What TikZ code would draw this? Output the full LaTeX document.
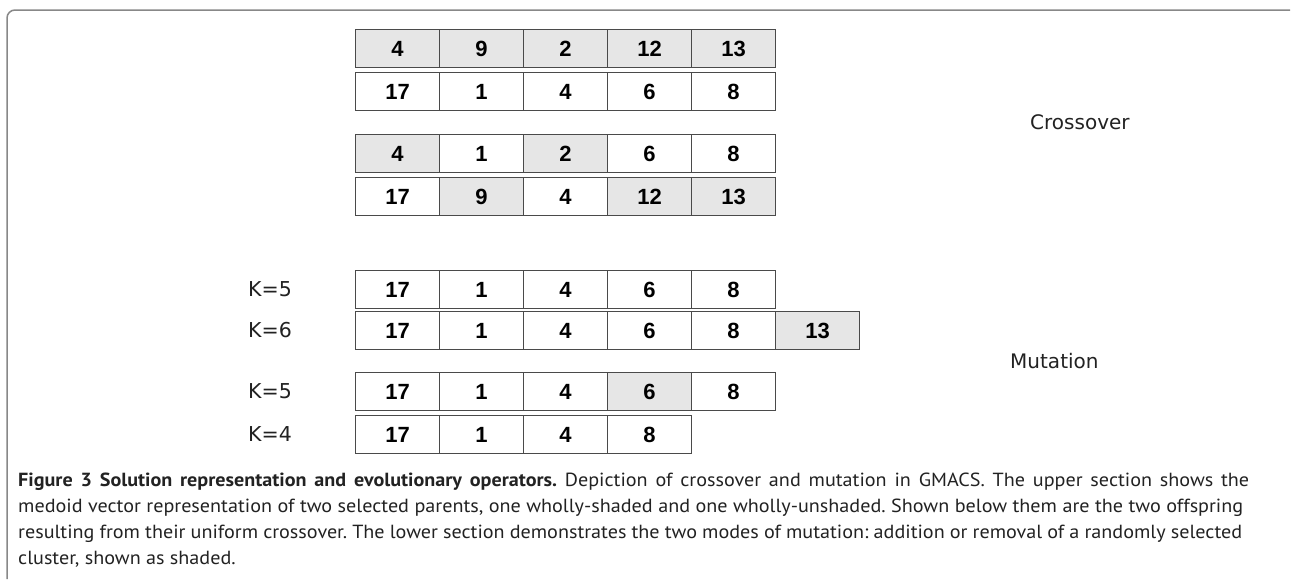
\documentclass[tikz,border=0pt]{standalone}
\usepackage{fontspec}
\setmainfont{PT Sans}
\newfontfamily\capfont[FakeStretch=1.06]{PT Sans}
\newfontfamily\cellfont{Liberation Sans}
\newfontfamily\labfont{DejaVu Sans}
\definecolor{shade}{HTML}{E6E6E6}
\definecolor{edge}{HTML}{4A4A4A}
\definecolor{frame}{HTML}{888888}
\definecolor{txt}{HTML}{222222}
\frenchspacing
\newcommand{\capline}[2]{\hbox to #1pt{\spaceskip=0.26em plus 0.4em minus 0.1em #2}}
\begin{document}
\begin{tikzpicture}[x=1pt,y=-1pt,
  cell/.style={draw=edge, line width=1.1pt, anchor=north west, inner sep=0pt,
    minimum width=84pt, minimum height=38pt, font=\cellfont\bfseries\fontsize{22}{22}\selectfont, text=black},
  sh/.style={fill=shade},
  lab/.style={font=\labfont\fontsize{20.5}{20}\selectfont, text=txt, inner sep=0pt},
  sect/.style={font=\labfont\fontsize{20}{20}\selectfont, text=txt, inner sep=0pt, anchor=west}]
\useasboundingbox (0,0) rectangle (1292,579);
\fill[white] (0,0) rectangle (1292,579);
% frame
\draw[frame, line width=1.5pt, rounded corners=8pt] (7,579) -- (7,10) -- (1290,10);
% crossover rows
\node[cell,sh] (a1) at (355,29) {4};
\node[cell,sh] (a2) at (439,29) {9};
\node[cell,sh] (a3) at (523,29) {2};
\node[cell,sh] (a4) at (607,29) {12};
\node[cell,sh] (a5) at (691,29) {13};
\node[cell] (b1) at (355,72) {17};
\node[cell] (b2) at (439,72) {1};
\node[cell] (b3) at (523,72) {4};
\node[cell] (b4) at (607,72) {6};
\node[cell] (b5) at (691,72) {8};
\node[cell,sh] (c1) at (355,134) {4};
\node[cell] (c2) at (439,134) {1};
\node[cell,sh] (c3) at (523,134) {2};
\node[cell] (c4) at (607,134) {6};
\node[cell] (c5) at (691,134) {8};
\node[cell] (d1) at (355,177) {17};
\node[cell,sh] (d2) at (439,177) {9};
\node[cell] (d3) at (523,177) {4};
\node[cell,sh] (d4) at (607,177) {12};
\node[cell,sh] (d5) at (691,177) {13};
% mutation rows
\node[cell] (e1) at (355,270) {17};
\node[cell] (e2) at (439,270) {1};
\node[cell] (e3) at (523,270) {4};
\node[cell] (e4) at (607,270) {6};
\node[cell] (e5) at (691,270) {8};
\node[cell] (f1) at (355,311) {17};
\node[cell] (f2) at (439,311) {1};
\node[cell] (f3) at (523,311) {4};
\node[cell] (f4) at (607,311) {6};
\node[cell] (f5) at (691,311) {8};
\node[cell,sh] (f6) at (775,311) {13};
\node[cell] (g1) at (355,372) {17};
\node[cell] (g2) at (439,372) {1};
\node[cell] (g3) at (523,372) {4};
\node[cell,sh] (g4) at (607,372) {6};
\node[cell] (g5) at (691,372) {8};
\node[cell] (h1) at (355,415) {17};
\node[cell] (h2) at (439,415) {1};
\node[cell] (h3) at (523,415) {4};
\node[cell] (h4) at (607,415) {8};
% labels
\node[lab] (k1) at (270,289) {K=5};
\node[lab] (k2) at (270,330) {K=6};
\node[lab] (k3) at (270,391) {K=5};
\node[lab] (k4) at (270,434) {K=4};
\node[sect] (cross) at (1030,122) {Crossover};
\node[sect] (mut) at (1010,361) {Mutation};
% caption
\node[anchor=north west, inner sep=0pt, align=left, text=txt,
  font=\capfont\fontsize{19}{26}\selectfont] (cap) at (18,473)
{\capline{1231}{\textbf{Figure 3 Solution representation and evolutionary operators.} Depiction of crossover and mutation in GMACS. The upper section shows the}\\
\capline{1225}{medoid vector representation of two selected parents, one wholly-shaded and one wholly-unshaded. Shown below them are the two offspring}\\
\capline{1224}{resulting from their uniform crossover. The lower section demonstrates the two modes of mutation: addition or removal of a randomly selected}\\
cluster, shown as shaded.};
\end{tikzpicture}
\end{document}
